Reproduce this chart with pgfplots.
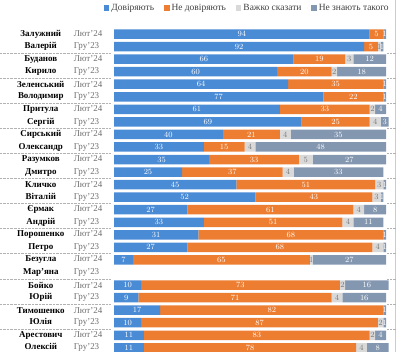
\documentclass[border=0pt]{standalone}
\usepackage{fontspec}
\setmainfont{Liberation Serif}
\usepackage{pgfplots}
\usepackage{pgfplotstable}
\pgfplotsset{compat=1.18}
\definecolor{cTrust}{RGB}{74,139,214}
\definecolor{cDist}{RGB}{237,125,49}
\definecolor{cHard}{RGB}{217,217,217}
\definecolor{cUnk}{RGB}{132,151,176}
\definecolor{dateCol}{RGB}{110,110,110}
\definecolor{hardTxt}{RGB}{120,120,120}
\newcommand\lab[2]{\makebox[66bp][c]{\bfseries #1}\makebox[34bp][l]{\color{dateCol}#2}}
\pgfplotstableread{
row t d h u
0 94 5 0 1
1 92 5 1 1
2 66 19 3 12
3 60 20 2 18
4 64 35 0 1
5 77 22 0 1
6 61 33 2 4
7 69 25 4 3
8 40 21 4 35
9 33 15 4 48
10 35 33 5 27
11 25 37 4 33
12 45 51 3 1
13 52 43 3 1
14 27 61 4 8
15 33 51 4 11
16 31 68 0 1
17 27 68 4 1
18 7 65 1 27
19 0 0 0 0
20 10 73 2 16
21 9 71 4 16
22 17 82 0 1
23 10 87 2 1
24 11 83 2 4
25 11 78 4 8
}\data
% label positions: middle of each stacked segment
\pgfplotstablecreatecol[create col/expr={\thisrow{t}/2}]{mt}\data
\pgfplotstablecreatecol[create col/expr={\thisrow{t}+\thisrow{d}/2}]{md}\data
\pgfplotstablecreatecol[create col/expr={\thisrow{t}+\thisrow{d}+\thisrow{h}/2}]{mh}\data
\pgfplotstablecreatecol[create col/expr={\thisrow{t}+\thisrow{d}+\thisrow{h}+\thisrow{u}/2}]{mu}\data
\pgfplotsset{
  frame/.style={
    at={(114bp,-24.6bp)}, anchor=north west,
    scale only axis, width=272bp, height=327.6bp,
    xmin=0, xmax=100, ymin=-0.75, ymax=25.35, y dir=reverse,
    clip=false, axis line style={draw=none}, tick style={draw=none},
    xtick=\empty,
  },
  lbl/.style={
    only marks, mark=none, point meta=explicit,
    nodes near coords={\pgfmathfloatparsenumber{\pgfplotspointmeta}%
      \pgfmathfloatifflags{\pgfmathresult}{0}{}{\pgfmathprintnumber{\pgfplotspointmeta}}},
    every node near coord/.append style={anchor=center,
      font=\fontsize{8.5}{9}\selectfont\bfseries, text=#1, inner sep=0pt}
  }
}
\begin{document}
\begin{tikzpicture}
\path[use as bounding box] (0,0) rectangle (396bp,-352bp);
\draw[gray!40, line width=0.6bp] (395.3bp,0) -- (395.3bp,-352bp);
\begin{axis}[frame,
  xbar stacked, bar width=9.5bp,
  ytick={0,...,25},
  yticklabels={
    {\lab{Залужний}{Лют'24}},{\lab{Валерій}{Гру'23}},
    {\lab{Буданов}{Лют'24}},{\lab{Кирило}{Гру'23}},
    {\lab{Зеленський}{Лют'24}},{\lab{Володимир}{Гру'23}},
    {\lab{Притула}{Лют'24}},{\lab{Сергій}{Гру'23}},
    {\lab{Сирський}{Лют'24}},{\lab{Олександр}{Гру'23}},
    {\lab{Разумков}{Лют'24}},{\lab{Дмитро}{Гру'23}},
    {\lab{Кличко}{Лют'24}},{\lab{Віталій}{Гру'23}},
    {\lab{Єрмак}{Лют'24}},{\lab{Андрій}{Гру'23}},
    {\lab{Порошенко}{Лют'24}},{\lab{Петро}{Гру'23}},
    {\lab{Безугла}{Лют'24}},{\lab{Мар'яна}{Гру'23}},
    {\lab{Бойко}{Лют'24}},{\lab{Юрій}{Гру'23}},
    {\lab{Тимошенко}{Лют'24}},{\lab{Юлія}{Гру'23}},
    {\lab{Арестович}{Лют'24}},{\lab{Олексій}{Гру'23}}
  },
  yticklabel style={anchor=east, inner sep=0pt, xshift=-6bp, font=\fontsize{9}{10}\selectfont},
  legend style={draw=none, fill=none, legend columns=4, inner sep=0pt,
    font=\fontsize{9.5}{10}\selectfont, text=black!75,
    at={(axis description cs:1.018,1)}, anchor=east, yshift=16.6bp,
    /tikz/every even column/.append style={column sep=8bp}},
  legend image code/.code={\fill[#1] (0bp,-2.7bp) rectangle (5.4bp,2.7bp);},
]
\addplot[fill=cTrust, draw=none] table[x=t, y=row]{\data};
\addplot[fill=cDist, draw=none] table[x=d, y=row]{\data};
\addplot[fill=cHard, draw=none] table[x=h, y=row]{\data};
\addplot[fill=cUnk, draw=none] table[x=u, y=row]{\data};
\legend{Довіряють, Не довіряють, Важко сказати, Не знають такого}
\pgfplotsinvokeforeach{1.5,3.5,...,23.5}{
  \draw[gray!60, densely dotted] (axis cs:-42,#1) -- (axis cs:-1,#1);
  \draw[gray!60, densely dotted] (axis cs:100.4,#1) -- (axis cs:103.5,#1);
}
\end{axis}
\begin{axis}[frame, ytick=\empty]
\addplot[lbl=white] table[x=mt, y=row, meta=t]{\data};
\addplot[lbl=white] table[x=md, y=row, meta=d]{\data};
\addplot[lbl=hardTxt] table[x=mh, y=row, meta=h]{\data};
\addplot[lbl=white] table[x=mu, y=row, meta=u]{\data};
\end{axis}
\end{tikzpicture}
\end{document}
